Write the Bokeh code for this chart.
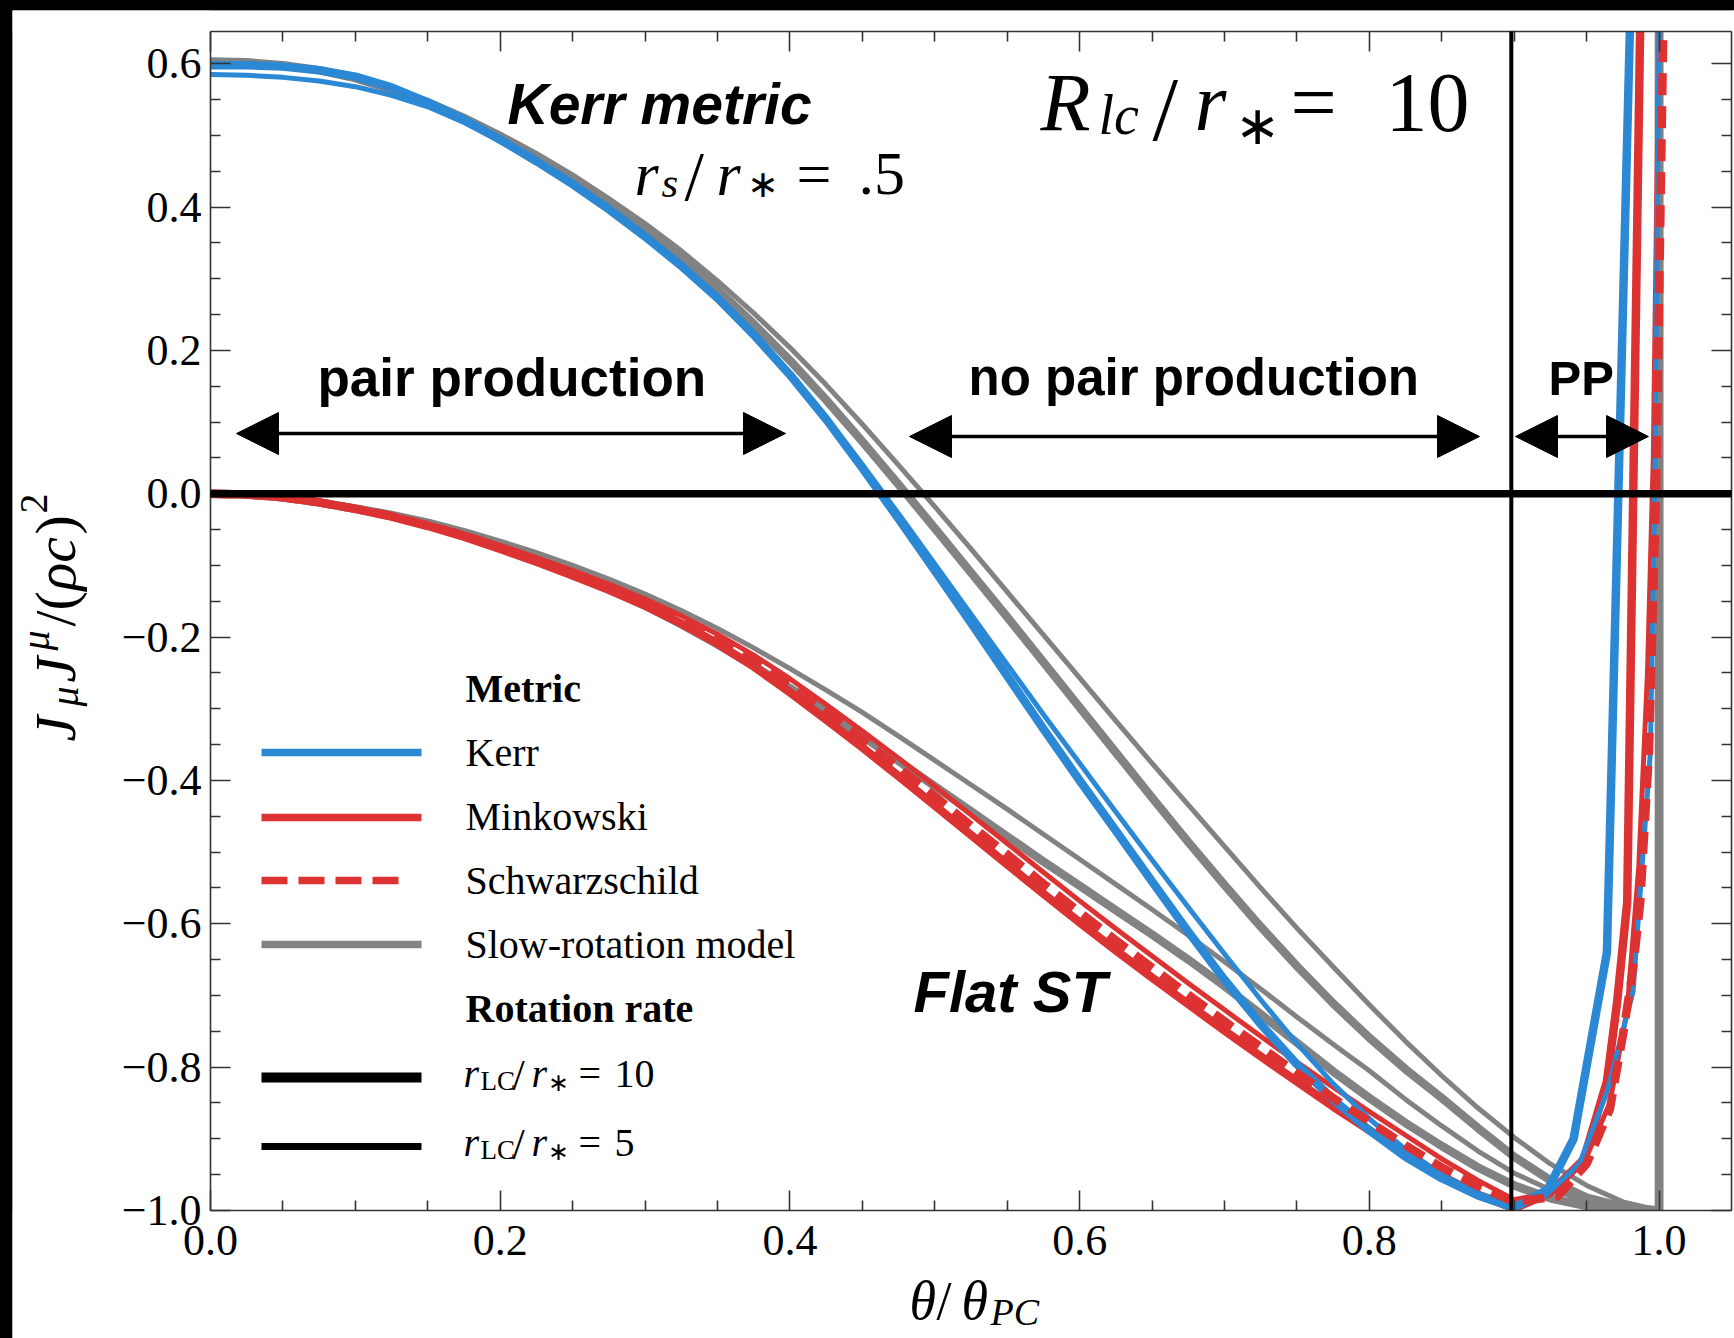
import math
from bokeh.plotting import figure
from bokeh.models import (Range1d, LinearAxis, FixedTicker, Label, Arrow, NormalHead,
                          BoxAnnotation)
from bokeh.layouts import column
from bokeh.embed import file_html
from bokeh.resources import INLINE

# ---------------- data ----------------
theta_grid = [0.0, 0.025, 0.05, 0.075, 0.1, 0.125, 0.15, 0.175, 0.2, 0.225, 0.25, 0.275,
              0.3, 0.325, 0.35, 0.375, 0.4, 0.425, 0.45, 0.475, 0.5, 0.525, 0.55, 0.575,
              0.6, 0.625, 0.65, 0.675, 0.7, 0.725, 0.75, 0.775, 0.8, 0.825, 0.85, 0.875, 0.9]
theta_edge = [0.925, 0.95, 0.975, 1.0, 1.0]

# Kerr metric, r_LC/r_* = 10 (thick blue)
kerr10_theta = theta_grid + [0.923, 0.941, 0.964, 0.98]
kerr10_j = [0.598, 0.598, 0.596, 0.591, 0.582, 0.567, 0.546, 0.522, 0.494, 0.464, 0.432, 0.397,
            0.359, 0.318, 0.273, 0.222, 0.166, 0.104, 0.036, -0.035, -0.107, -0.180, -0.254, -0.328,
            -0.400, -0.470, -0.541, -0.611, -0.678, -0.740, -0.796, -0.845, -0.888, -0.925, -0.955,
            -0.979, -0.996,
            -0.971, -0.900, -0.640, 0.660]
# Kerr metric, r_LC/r_* = 5 (thin blue)
kerr5_theta = theta_grid + [0.92, 0.945, 0.964, 0.982, 0.994, 0.997, 1.0]
kerr5_j = [0.585, 0.584, 0.581, 0.576, 0.568, 0.556, 0.540, 0.518, 0.492, 0.463, 0.431, 0.396,
           0.358, 0.317, 0.272, 0.222, 0.167, 0.107, 0.041, -0.028, -0.098, -0.168, -0.238, -0.308,
           -0.376, -0.444, -0.511, -0.577, -0.642, -0.706, -0.767, -0.823, -0.872, -0.915, -0.950,
           -0.976, -0.992,
           -0.982, -0.935, -0.835, -0.695, -0.360, 0.010, 0.660]
# Minkowski, r_LC/r_* = 10 (thick red)
mink10_theta = theta_grid + [0.925, 0.948, 0.964, 0.971, 0.978, 0.987]
mink10_j = [0.0, -0.001, -0.005, -0.012, -0.021, -0.032, -0.045, -0.060, -0.077, -0.095, -0.114,
            -0.134, -0.156, -0.181, -0.209, -0.241, -0.277, -0.315, -0.354, -0.394, -0.435, -0.476,
            -0.517, -0.558, -0.598, -0.637, -0.675, -0.712, -0.749, -0.785, -0.820, -0.855, -0.888,
            -0.922, -0.952, -0.978, -0.997,
            -0.975, -0.929, -0.820, -0.710, -0.570, 0.660]
# Minkowski, r_LC/r_* = 5 (thin red)
mink5_theta = theta_grid + [0.925, 0.95, 0.966, 0.978, 0.986, 0.992, 0.996, 1.0]
mink5_j = [0.0, -0.001, -0.005, -0.011, -0.020, -0.030, -0.042, -0.056, -0.072, -0.089, -0.107,
           -0.126, -0.147, -0.170, -0.196, -0.225, -0.258, -0.294, -0.331, -0.369, -0.408, -0.448,
           -0.488, -0.528, -0.568, -0.607, -0.645, -0.683, -0.720, -0.757, -0.793, -0.828, -0.862,
           -0.895, -0.928, -0.958, -0.985,
           -0.975, -0.925, -0.850, -0.720, -0.520, -0.250, 0.050, 0.660]
# Schwarzschild, r_LC/r_* = 10 (thick dashed red)
schw10_theta = theta_grid + [0.93, 0.95, 0.966, 0.975, 0.982, 0.987, 0.993, 0.998, 1.003]
schw10_j = [0.0, -0.001, -0.005, -0.012, -0.021, -0.031, -0.044, -0.058, -0.075, -0.092, -0.111,
            -0.131, -0.152, -0.176, -0.203, -0.234, -0.268, -0.305, -0.343, -0.382, -0.422, -0.463,
            -0.503, -0.544, -0.584, -0.623, -0.661, -0.699, -0.736, -0.772, -0.808, -0.843, -0.876,
            -0.909, -0.940, -0.966, -0.988,
            -0.980, -0.935, -0.859, -0.756, -0.663, -0.570, -0.360, 0.010, 0.660]
# Slow-rotation model, Kerr-like branch (upper): thick and thin
slow_up10_theta = theta_grid + theta_edge
slow_up10_j = [0.603, 0.602, 0.598, 0.591, 0.580, 0.564, 0.545, 0.523, 0.498, 0.470, 0.439, 0.405,
               0.370, 0.329, 0.285, 0.237, 0.186, 0.131, 0.073, 0.013, -0.048, -0.110, -0.172, -0.235,
               -0.298, -0.361, -0.424, -0.486, -0.546, -0.604, -0.659, -0.711, -0.759, -0.803, -0.843,
               -0.885, -0.925, -0.958, -0.982, -0.995, -1.0, 0.70]
slow_up5_theta = theta_grid + theta_edge
slow_up5_j = [0.603, 0.602, 0.599, 0.592, 0.582, 0.567, 0.549, 0.527, 0.502, 0.475, 0.445, 0.412,
              0.377, 0.339, 0.297, 0.252, 0.204, 0.152, 0.097, 0.040, -0.018, -0.077, -0.137, -0.197,
              -0.257, -0.317, -0.376, -0.434, -0.492, -0.550, -0.606, -0.660, -0.713, -0.764, -0.812,
              -0.857, -0.898, -0.935, -0.965, -0.988, -1.0, 0.70]
# Slow-rotation model, flat branch (lower): thick and thin
slow_lo10_theta = theta_grid + theta_edge
slow_lo10_j = [0.0, -0.001, -0.005, -0.012, -0.021, -0.031, -0.043, -0.057, -0.073, -0.091, -0.111,
               -0.133, -0.156, -0.182, -0.210, -0.240, -0.271, -0.304, -0.338, -0.373, -0.408, -0.443,
               -0.478, -0.513, -0.547, -0.581, -0.615, -0.650, -0.687, -0.726, -0.766, -0.806, -0.843,
               -0.878, -0.910, -0.940, -0.965, -0.983, -0.994, -0.999, -1.0, 0.70]
slow_lo5_theta = theta_grid + theta_edge
slow_lo5_j = [0.0, -0.001, -0.004, -0.010, -0.018, -0.027, -0.038, -0.051, -0.066, -0.082, -0.100,
              -0.119, -0.140, -0.163, -0.188, -0.215, -0.244, -0.274, -0.305, -0.338, -0.372, -0.406,
              -0.440, -0.475, -0.510, -0.545, -0.580, -0.616, -0.653, -0.691, -0.730, -0.768, -0.805,
              -0.845, -0.882, -0.917, -0.948, -0.971, -0.987, -0.997, -1.0, 0.70]

turnover_theta = 0.898     # vertical black marker line

x_ticks = [0.0, 0.2, 0.4, 0.6, 0.8, 1.0]
x_tick_labels = ["0.0", "0.2", "0.4", "0.6", "0.8", "1.0"]
y_ticks = [-1.0, -0.8, -0.6, -0.4, -0.2, 0.0, 0.2, 0.4, 0.6]
y_tick_labels = ["\u22121.0", "\u22120.8", "\u22120.6", "\u22120.4", "\u22120.2",
                 "0.0", "0.2", "0.4", "0.6"]

legend_metric_labels = ["Kerr", "Minkowski", "Schwarzschild", "Slow-rotation model"]

# ---------------- page geometry (page pixels) ----------------
PAGE_W, PAGE_H = 1734, 1338
PAGE_L, PAGE_T = 12, 10                 # black page border
FRAME_L, FRAME_R, FRAME_T, FRAME_B = 210, 1731, 31, 1210   # the plotted box
X0, X1 = 0.0, 1.05
Y0, Y1 = -1.0, 0.645


def dx(px):
    return X0 + (px - FRAME_L) / (FRAME_R - FRAME_L) * (X1 - X0)


def dy(py):
    return Y1 - (py - FRAME_T) / (FRAME_B - FRAME_T) * (Y1 - Y0)


BLUE = "#2a88d5"
RED = "#dd3232"
GRAY = "#828282"
AXIS = "#333333"
SERIF = "Liberation Serif"
SANS = "Liberation Sans"
THICK, THIN = 8.5, 5.0

# The figure's frame covers the whole canvas; the axes are pinned around the data box
p = figure(width=PAGE_W - PAGE_L, height=PAGE_H - PAGE_T,
           x_range=Range1d(dx(PAGE_L), dx(PAGE_W)), y_range=Range1d(dy(PAGE_H), dy(PAGE_T)),
           x_axis_type=None, y_axis_type=None,
           output_backend="svg", toolbar_location=None, min_border=0,
           background_fill_color="white", border_fill_color="white")
p.outline_line_color = None
p.margin = (PAGE_T, 0, 0, PAGE_L)

x_minor = [round(0.05 * k, 2) for k in range(1, 21) if k % 4]
y_minor = [round(-1.0 + 0.05 * k, 2) for k in range(1, 33) if k % 4]

# ---------------- curves ----------------
kw = dict(line_join="round")
p.line(slow_up10_theta, slow_up10_j, line_color=GRAY, line_width=THICK, **kw)
p.line(slow_up5_theta, slow_up5_j, line_color=GRAY, line_width=THIN, **kw)
p.line(slow_lo10_theta, slow_lo10_j, line_color=GRAY, line_width=THICK, **kw)
p.line(slow_lo5_theta, slow_lo5_j, line_color=GRAY, line_width=THIN, **kw)
p.line(mink5_theta, mink5_j, line_color=RED, line_width=THIN, **kw)
p.line(mink10_theta, mink10_j, line_color=RED, line_width=THICK, **kw)
p.line(kerr5_theta, kerr5_j, line_color=BLUE, line_width=THIN, **kw)
p.line(kerr10_theta, kerr10_j, line_color=BLUE, line_width=THICK, **kw)
p.line(schw10_theta, schw10_j, line_color=RED, line_width=THICK, line_dash="22 11", **kw)

# white masks outside the data box (drawn after the curves, below the axes)
for box in (dict(bottom=Y1), dict(top=Y0), dict(right=X0), dict(left=X1)):
    p.add_layout(BoxAnnotation(fill_color="white", fill_alpha=1.0, line_color=None,
                               level="glyph", **box))


# ---------------- axes pinned to the data box ----------------
def make_axis(fixed, bounds, ticks, minor, labels, standoff=0):
    ax = LinearAxis(fixed_location=fixed, bounds=bounds)
    ax.ticker = FixedTicker(ticks=ticks, minor_ticks=minor)
    ax.axis_line_color = AXIS
    ax.axis_line_width = 1.6
    ax.major_tick_in = 20
    ax.major_tick_out = 0
    ax.minor_tick_in = 10
    ax.minor_tick_out = 0
    ax.major_tick_line_color = AXIS
    ax.major_tick_line_width = 1.6
    ax.minor_tick_line_color = AXIS
    ax.minor_tick_line_width = 1.6
    ax.axis_label = None
    ax.major_label_standoff = standoff
    if labels is None:
        ax.major_label_text_font_size = "1px"
        ax.major_label_text_color = None
        ax.major_label_text_alpha = 0
    else:
        ax.major_label_overrides = {t: s for t, s in zip(ticks, labels)}
        ax.major_label_text_font = SERIF
        ax.major_label_text_font_size = "44px"
        ax.major_label_text_color = "black"
    return ax


p.add_layout(make_axis(X0, (Y0, Y1), y_ticks, y_minor, y_tick_labels, 9), "left")
p.add_layout(make_axis(Y0, (X0, X1), x_ticks, x_minor, x_tick_labels, 15), "below")
p.add_layout(make_axis(Y1, (X0, X1), x_ticks, x_minor, None), "above")
p.add_layout(make_axis(X1, (Y0, Y1), y_ticks, y_minor, None), "right")


# ---------------- reference lines & arrows ----------------
def seg(px0, py0, px1, py1, color, width, dash="solid"):
    p.add_layout(Arrow(x_start=dx(px0), y_start=dy(py0), x_end=dx(px1), y_end=dy(py1),
                       start=None, end=None, line_color=color, line_width=width, line_dash=dash))


p.add_layout(Arrow(x_start=X0, y_start=0.0, x_end=X1, y_end=0.0, start=None, end=None,
                   line_color="black", line_width=7.5))
p.add_layout(Arrow(x_start=turnover_theta, y_start=Y0, x_end=turnover_theta, y_end=Y1,
                   start=None, end=None, line_color="black", line_width=4))


def double_arrow(px0, px1, py):
    head = dict(size=42, fill_color="black", line_color="black", line_width=1)
    p.add_layout(Arrow(x_start=dx(px0), y_start=dy(py), x_end=dx(px1), y_end=dy(py),
                       line_color="black", line_width=3.5,
                       start=NormalHead(**head), end=NormalHead(**head)))


double_arrow(236, 785, 433)
double_arrow(909, 1479, 436)
double_arrow(1515, 1648, 436)


# ---------------- texts ----------------
def ptxt(text, px, py, size, style="normal", font=SERIF, angle=0.0):
    p.add_layout(Label(x=dx(px), y=dy(py), text=text, text_font=font,
                       text_font_size=f"{size}px", text_font_style=style,
                       text_color="black", text_align="left", text_baseline="alphabetic",
                       angle=angle))


ptxt("Kerr metric", 507, 103, 57, "bold italic", SANS)
ptxt("pair production", 317, 377, 53, "bold", SANS)
ptxt("no pair production", 968, 377, 51, "bold", SANS)
ptxt("PP", 1548, 377, 49, "bold", SANS)
ptxt("Flat ST", 913, 991, 58, "bold italic", SANS)

# r_s / r_* = .5
ptxt("r", 634, 173, 62, "italic")
ptxt("s", 661, 182, 43, "italic")
ptxt("/", 684, 176, 70)
ptxt("r", 716, 173, 62, "italic")
ptxt("\u2217", 746, 183, 38)
ptxt("=", 796, 173, 62)
ptxt(".5", 858, 173, 62)

# R_lc / r_* = 10
ptxt("R", 1040, 102, 82, "italic")
ptxt("lc", 1098, 114, 56, "italic")
ptxt("/", 1152, 108, 92)
ptxt("r", 1194, 102, 82, "italic")
ptxt("\u2217", 1234, 125, 54)
ptxt("=", 1290, 102, 82)
ptxt("10", 1385, 102, 84)

# axis titles
ptxt("\u03b8", 909, 1300, 54, "italic")
ptxt("/", 936, 1300, 54)
ptxt("\u03b8", 961, 1300, 54, "italic")
ptxt("PC", 990, 1311, 38, "italic")

VA = math.pi / 2
ptxt("J", 55, 741, 58, "italic", angle=VA)
ptxt("\u03bc", 64, 706, 40, "italic", angle=VA)
ptxt("J", 55, 682, 58, "italic", angle=VA)
ptxt("\u03bc", 35, 650, 40, "italic", angle=VA)
ptxt("/(", 55, 626, 58, angle=VA)
ptxt("\u03c1c", 55, 590, 58, "italic", angle=VA)
ptxt(")", 55, 534, 58, angle=VA)
ptxt("2", 33, 513, 40, angle=VA)

# ---------------- legend ----------------
LEG_X0, LEG_X1, LEG_TX = 261, 421, 465

ptxt("Metric", LEG_TX, 688, 40, "bold")
seg(LEG_X0, 752, LEG_X1, 752, BLUE, 7.5)
ptxt(legend_metric_labels[0], LEG_TX, 752, 40)
seg(LEG_X0, 817, LEG_X1, 817, RED, 7.5)
ptxt(legend_metric_labels[1], LEG_TX, 816, 40)
seg(LEG_X0, 880, 402, 880, RED, 7.5, "26 11")
ptxt(legend_metric_labels[2], LEG_TX, 880, 40)
seg(LEG_X0, 944, LEG_X1, 944, GRAY, 7.5)
ptxt(legend_metric_labels[3], LEG_TX, 944, 40)
ptxt("Rotation rate", LEG_TX, 1008, 40, "bold")
for py, wid, num in [(1077, 10, "10"), (1146, 7, "5")]:
    seg(LEG_X0, py, LEG_X1, py, "black", wid)
    base = py - 4
    ptxt("r", 463, base, 40, "italic")
    ptxt("LC", 480, base + 7, 27)
    ptxt("/", 512, base + 2, 44)
    ptxt("r", 531, base, 40, "italic")
    ptxt("\u2217", 547, base + 9, 25)
    ptxt("=", 578, base, 40)
    ptxt(num, 614, base, 40)

layout = column(p, styles={"background-color": "black"})
open("out.html", "w").write(file_html(layout, INLINE, "Current invariant"))
